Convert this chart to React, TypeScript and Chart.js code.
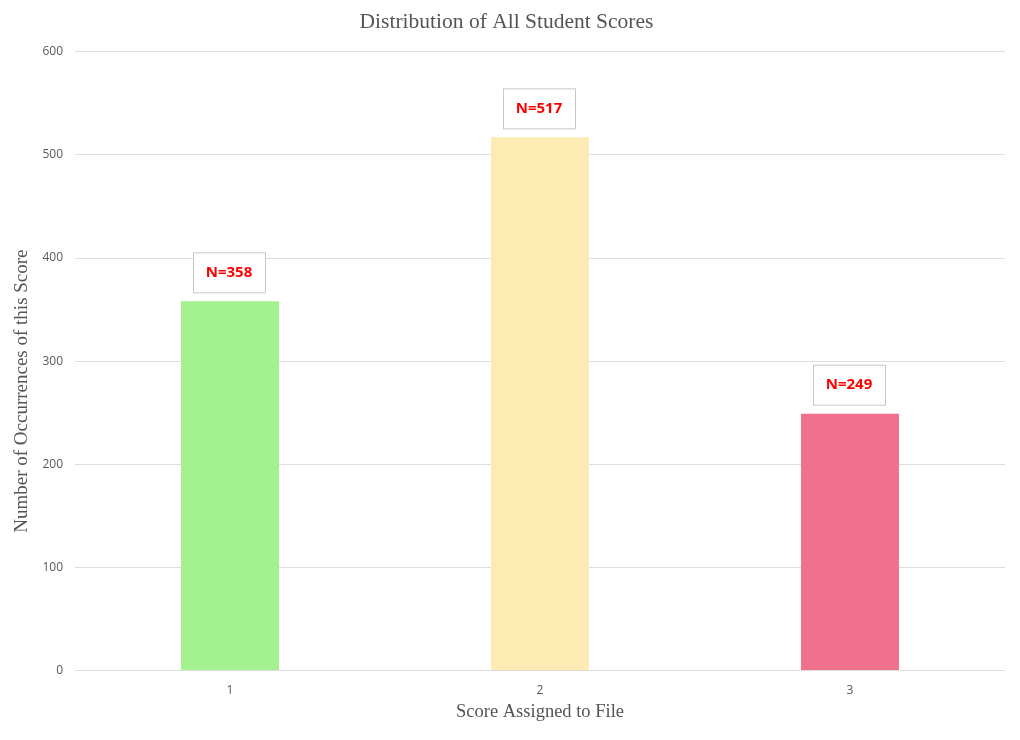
import { useEffect, useRef } from "react";
import { Chart, registerables } from "chart.js";

Chart.register(...registerables);

const scores = ["1", "2", "3"];
const counts = [358, 517, 249];
const barColors = ["#a3f28f", "#feebb4", "#f0718e"];
const yTicks = [0, 100, 200, 300, 400, 500, 600];
const yTitle = "Number of Occurrences of this Score";

// draws the "N=..." boxes above each bar, plus the y title (sits a bit below centre)
const countBoxes = {
	id: "countBoxes",
	afterDatasetsDraw(chart) {
		const ctx = chart.ctx;
		const meta = chart.getDatasetMeta(0);
		ctx.save();
		meta.data.forEach((bar, i) => {
			const text = `N=${counts[i]}`;
			const w = 72;
			const h = 40;
			const cx = bar.x - 1;
			const x = cx - w / 2;
			const y = bar.y - 9 - h;
			ctx.fillStyle = "#ffffff";
			ctx.fillRect(x, y, w, h);
			ctx.strokeStyle = "#c8c8c8";
			ctx.lineWidth = 1;
			ctx.strokeRect(x + 0.5, y + 0.5, w, h);
			ctx.fillStyle = "#ff0000";
			ctx.font = "bold 15px 'Open Sans', sans-serif";
			ctx.textAlign = "center";
			ctx.textBaseline = "middle";
			ctx.fillText(text, cx, y + h / 2);
		});

		const area = chart.chartArea;
		ctx.translate(22, (area.top + area.bottom) / 2 + 30);
		ctx.rotate(-Math.PI / 2);
		ctx.fillStyle = "#555555";
		ctx.font = "19px 'Liberation Serif', serif";
		ctx.textAlign = "center";
		ctx.textBaseline = "middle";
		ctx.fillText(yTitle, 0, 0);
		ctx.restore();
	},
};

const App = (): JSX.Element => {
	const chartRef = useRef<HTMLCanvasElement | null>(null);

	useEffect(() => {
		document.body.style.margin = "0";
		const ctx = chartRef.current.getContext("2d");
		const chart = new Chart(ctx, {
			type: "bar",
			data: {
				labels: scores,
				datasets: [
					{
						data: counts,
						backgroundColor: barColors,
						barPercentage: 0.316,
						categoryPercentage: 1,
					},
				],
			},
			options: {
				animation: false,
				responsive: false,
				layout: { padding: { top: 9, right: 15, left: 8, bottom: 17 } },
				plugins: {
					legend: { display: false },
					tooltip: { enabled: false },
					title: {
						display: true,
						text: "Distribution of All Student Scores",
						color: "#555555",
						font: { family: "'Liberation Serif', serif", size: 21.5, weight: "normal" },
						padding: { top: 0, bottom: 17 },
					},
				},
				scales: {
					x: {
						grid: { display: false },
						border: { display: false },
						ticks: {
							color: "#595959",
							font: { family: "'Open Sans', sans-serif", size: 12 },
							padding: 5,
						},
						title: {
							display: true,
							text: "Score Assigned to File",
							color: "#555555",
							font: { family: "'Liberation Serif', serif", size: 18.5 },
							padding: { top: -2, bottom: 0 },
						},
					},
					y: {
						min: 0,
						max: 600,
						afterBuildTicks: (axis) => {
							axis.ticks = yTicks.map((v) => ({ value: v }));
						},
						afterFit: (axis) => {
							axis.width = 67;
						},
						grid: { color: "#dedede", drawTicks: false },
						border: { display: false },
						ticks: {
							color: "#595959",
							font: { family: "'Open Sans', sans-serif", size: 12 },
							padding: 12,
						},
						title: { display: false },
					},
				},
			},
			plugins: [countBoxes],
		});

		return () => {
			chart.destroy();
		};
	}, []);

	return (
		<div>
			<canvas ref={chartRef} width={1020} height={740} />
		</div>
	);
};

export default App;
